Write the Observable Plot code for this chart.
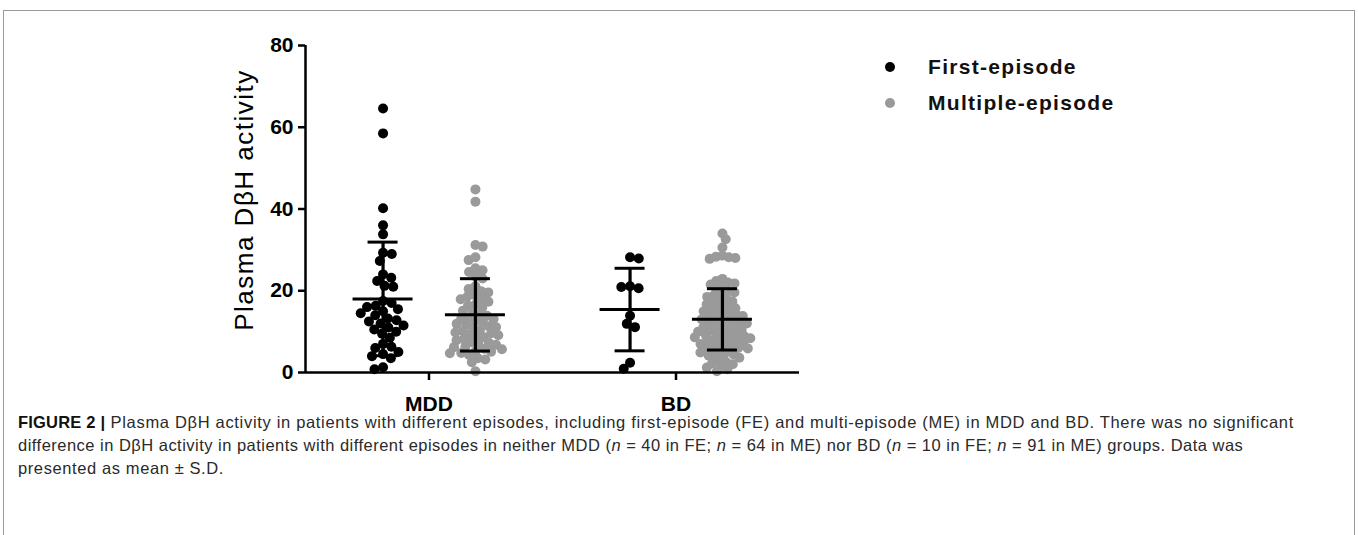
<!DOCTYPE html>
<html>
<head>
<meta charset="utf-8">
<script src="https://cdn.jsdelivr.net/npm/d3@7"></script>
<script src="https://cdn.jsdelivr.net/npm/@observablehq/plot@0.6"></script>
<style>
  html, body { margin: 0; padding: 0; background: #fff; }
  #page { position: relative; width: 1358px; height: 535px; overflow: hidden; background: #fff;
          font-family: "Liberation Sans", Arial, Helvetica, sans-serif; }
  #frame { position: absolute; left: 3px; top: 10px; width: 1352px; height: 700px; border: 1.5px solid #9a9a9a; box-sizing: border-box; }
  #chart { position: absolute; left: 0; top: 30px; }
  #legend { position: absolute; left: 880px; top: 50px; }
  .leg { position: relative; height: 36px; font-weight: bold; font-size: 21px; letter-spacing: 1.3px; color: #111; }
  .leg .sw { position: absolute; left: 5px; top: 12px; width: 10px; height: 10px; border-radius: 50%; }
  .leg .lb { position: absolute; left: 48px; top: 5px; white-space: nowrap; }
  #caption { position: absolute; left: 18px; top: 411px; font-size: 16.5px; letter-spacing: 0.6px; line-height: 23px; color: #2a2a2a; white-space: nowrap; }
  #caption b { color: #111; letter-spacing: 0.2px; }
  #caption .l1 { letter-spacing: 0.68px; }
  #caption .l2 { letter-spacing: 0.48px; }
</style>
</head>
<body>
<div id="page">
  <div id="frame"></div>
  <div id="chart"></div>
  <div id="legend"></div>
  <div id="caption">
    <div class="l1"><b>FIGURE 2 |</b> Plasma DβH activity in patients with different episodes, including first-episode (FE) and multi-episode (ME) in MDD and BD. There was no significant</div>
    <div class="l2">difference in DβH activity in patients with different episodes in neither MDD (<i>n</i> = 40 in FE; <i>n</i> = 64 in ME) nor BD (<i>n</i> = 10 in FE; <i>n</i> = 91 in ME) groups. Data was</div>
    <div>presented as mean ± S.D.</div>
  </div>
</div>
<script>
// ---------------- data ----------------
const categories = ["MDD", "BD"];
const seriesNames = ["First-episode", "Multiple-episode"];
const yTicks = [0, 20, 40, 60, 80];
const yLabel = "Plasma DβH activity";

const mddFirst = [64.6, 58.5, 40.2, 36.0, 33.8, 29.3, 29.0, 27.3, 24.0, 23.2,
  22.4, 21.2, 21.0, 17.5, 17.0, 16.3, 16.0, 15.5, 15.0, 14.5,
  14.0, 13.2, 12.8, 12.5, 12.0, 11.5, 11.0, 10.5, 10.0, 9.5,
  8.5, 7.0, 6.3, 6.0, 5.0, 4.5, 4.0, 3.5, 1.3, 0.8];

const mddMultiple = [44.8, 41.8, 31.2, 30.8, 28.2, 27.5, 25.5, 25.0, 24.6, 23.5, 23.0,
  21.1, 20.4, 19.9, 19.6, 18.9, 18.6, 18.1, 17.9, 17.3, 16.6,
  16.4, 15.9, 15.1, 14.9, 14.2, 13.9, 13.4, 13.1, 12.6, 12.4,
  11.9, 11.7, 11.3, 10.9, 10.4, 10.1, 9.8, 9.6, 9.1, 8.7,
  8.6, 8.1, 7.9, 7.4, 7.3, 6.9, 6.8, 6.3, 6.2, 5.8,
  5.7, 5.2, 5.1, 4.8, 4.7, 4.3, 9.3, 11.1, 13.3,
  3.5, 3.2, 2.5, 0.3];

const bdFirst = [28.2, 27.9, 20.9, 20.6, 21.1, 13.9, 11.9, 11.1, 2.4, 0.9];

const bdMultiple = [34.0, 32.6, 30.6, 28.6, 28.3, 28.0, 27.8, 28.2, 22.9, 22.4, 22.0, 21.8, 21.5,
  20.8, 20.3, 19.9, 19.6, 19.2, 18.8, 18.5, 18.1, 17.7, 17.4,
  17.0, 16.7, 16.3, 16.0, 15.7, 15.3, 15.0, 14.7, 14.4, 14.1,
  13.8, 13.5, 13.2, 12.9, 12.6, 12.3, 12.0, 11.8, 11.5, 11.2,
  11.0, 10.7, 10.4, 10.2, 9.9, 9.6, 9.4, 9.1, 8.9, 8.6,
  8.4, 8.1, 7.9, 7.6, 7.4, 7.1, 6.9, 6.6, 6.4, 6.1,
  5.9, 5.6, 5.4, 5.1, 4.9, 4.6, 4.4, 4.1, 3.9, 3.6,
  12.4, 13.0, 14.0, 15.5, 10.0, 11.0, 9.0, 8.0, 7.0, 6.0,
  0.3, 0.8, 1.2, 1.5, 2.0, 2.2, 2.5, 3.0];

// group summaries as drawn (mean ± S.D.), order: MDD-FE, MDD-ME, BD-FE, BD-ME
const groupMean = [18.0, 14.1, 15.4, 13.0];
const groupSD = [13.9, 8.85, 10.1, 7.5];

// ---------------- layout ----------------
const W = 830, H = 392, mL = 305, mR = 31, mT = 15, mB = 50;
const xDomain = [0, 10];
const catPos = [2.5, 7.5];
const seriesShift = [-0.93, 0.94];
const colors = ["#000000", "#9a9a9a"];
const dotR = 5;
const pxPerUnit = (W - mL - mR) / (xDomain[1] - xDomain[0]);
const yPix = d3.scaleLinear([0, 80], [H - mB, mT]);

const groups = [
  {cat: 0, ser: 0, vals: mddFirst, sep: 8.8},
  {cat: 0, ser: 1, vals: mddMultiple, sep: 7.4},
  {cat: 1, ser: 0, vals: bdFirst, sep: 8.8},
  {cat: 1, ser: 1, vals: bdMultiple, sep: 6.6}
];

// beeswarm offsets (pixels) from values
function swarm(vals, d) {
  const pts = vals.map(v => ({v, py: yPix(v), ox: 0}));
  const order = pts.slice().sort((a, b) => a.py - b.py);
  const placed = [];
  let flip = 1;
  for (const p of order) {
    const blocks = [];
    for (const q of placed) {
      const dy = Math.abs(q.py - p.py);
      if (dy < d) { const w = Math.sqrt(d * d - dy * dy); blocks.push([q.ox - w, q.ox + w]); }
    }
    const cands = [0];
    for (const [a, b] of blocks) cands.push(a, b);
    const ok = c => blocks.every(([a, b]) => c <= a + 1e-6 || c >= b - 1e-6);
    let best = null;
    for (const c of cands) {
      if (!ok(c)) continue;
      if (best === null || Math.abs(c) < Math.abs(best) - 1e-6 ||
          (Math.abs(Math.abs(c) - Math.abs(best)) < 1e-6 && Math.sign(c) === flip)) best = c;
    }
    p.ox = best;
    if (Math.abs(best) > 1e-6) flip = -flip;
    placed.push(p);
  }
  return pts.map(p => p.ox);
}

const points = [];
const bars = [];
groups.forEach((g, gi) => {
  const center = catPos[g.cat] + seriesShift[g.ser];
  const offs = swarm(g.vals, g.sep);
  g.vals.forEach((v, i) => points.push({
    category: categories[g.cat], series: seriesNames[g.ser], value: v,
    x: center + offs[i] / pxPerUnit
  }));
  const m = groupMean[gi], s = groupSD[gi];
  bars.push({x: center, mean: m, lo: m - s, hi: m + s,
    mx1: center - 30 / pxPerUnit, mx2: center + 30 / pxPerUnit,
    cx1: center - 15 / pxPerUnit, cx2: center + 15 / pxPerUnit});
});

const chart = Plot.plot({
  width: W, height: H,
  marginLeft: mL, marginRight: mR, marginTop: mT, marginBottom: mB,
  style: {fontFamily: "'Liberation Sans', Arial, Helvetica, sans-serif", color: "#000", background: "transparent", overflow: "visible"},
  x: {type: "linear", domain: xDomain, axis: null},
  y: {domain: [0, 80], axis: null},
  color: {domain: seriesNames, range: colors},
  marks: [
    Plot.axisY(yTicks, {tickSize: 7, tickPadding: 5, fontSize: 21, fontWeight: "bold", strokeWidth: 2.5, label: null}),
    Plot.axisX(catPos, {tickSize: 8, tickPadding: 16, fontSize: 21, fontWeight: "bold", strokeWidth: 2.5, label: null,
      tickFormat: d => categories[catPos.indexOf(d)]}),
    Plot.text([yLabel], {text: d => d, frameAnchor: "left", textAnchor: "middle", lineAnchor: "middle",
      rotate: -90, dx: -61, dy: -9, fontSize: 26}),
    Plot.dot(points, {x: "x", y: "value", r: dotR, fill: "series", stroke: "none"}),
    Plot.ruleX([xDomain[0]], {strokeWidth: 2.5}),
    Plot.ruleY([0], {strokeWidth: 2.5}),
    Plot.ruleX(bars, {x: "x", y1: "lo", y2: "hi", strokeWidth: 3.2}),
    Plot.ruleY(bars, {y: "mean", x1: "mx1", x2: "mx2", strokeWidth: 3}),
    Plot.ruleY(bars, {y: "hi", x1: "cx1", x2: "cx2", strokeWidth: 3}),
    Plot.ruleY(bars, {y: "lo", x1: "cx1", x2: "cx2", strokeWidth: 3})
  ]
});
chart.querySelectorAll("text").forEach(t => { if (t.textContent === yLabel) t.setAttribute("letter-spacing", "1.5"); });
document.getElementById("chart").appendChild(chart);

// legend (HTML)
const legend = document.getElementById("legend");
seriesNames.forEach((name, i) => {
  const row = document.createElement("div");
  row.className = "leg";
  const sw = document.createElement("span");
  sw.className = "sw"; sw.style.background = colors[i];
  const lb = document.createElement("span");
  lb.className = "lb"; lb.textContent = name;
  row.appendChild(sw); row.appendChild(lb);
  legend.appendChild(row);
});
</script>
</body>
</html>
